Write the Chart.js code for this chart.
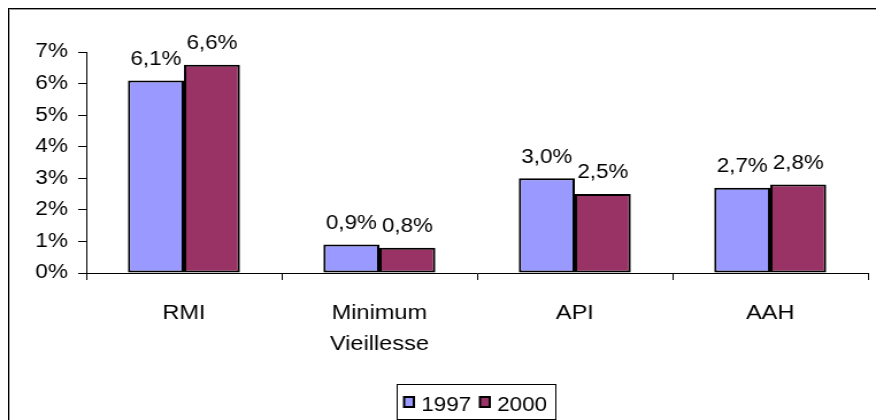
<!DOCTYPE html>
<html>
<head>
<meta charset="utf-8">
<script src="https://cdn.jsdelivr.net/npm/chart.js@4.4.1/dist/chart.umd.min.js"></script>
<style>
html,body{margin:0;padding:0;background:#fff;overflow:hidden;}
#wrap{width:876px;height:420px;position:relative;overflow:hidden;background:#fff;}
#c{position:absolute;left:0;top:0;transform-origin:0 0;transform:scaleX(1.1496);}
#f1{position:absolute;left:8px;top:8px;width:900px;height:450px;border-left:1px solid #000;border-top:1px solid #000;}
#f2{position:absolute;left:9px;top:9px;width:900px;height:450px;border-left:1px solid #9a9a9a;border-top:1px solid #9a9a9a;}
</style>
</head>
<body>
<div id="wrap">
<div id="f1"></div><div id="f2"></div>
<canvas id="c" width="762" height="420"></canvas>
</div>
<script>
const categories = [["RMI"], ["Minimum", "Vieillesse"], ["API"], ["AAH"]];
const seriesNames = ["1997", "2000"];
const values1997 = [6.1, 0.9, 3.0, 2.7];
const values2000 = [6.6, 0.8, 2.5, 2.8];
const yTicks = [0, 1, 2, 3, 4, 5, 6, 7];
const colors = ["#9999FF", "#993366"];

const FONT = "'Liberation Sans', Arial, sans-serif";

function fmt(v) { return v.toFixed(1).replace('.', ',') + '%'; }

const labelPlugin = {
  id: 'vlabels',
  afterDatasetsDraw(chart) {
    const ctx = chart.ctx;
    ctx.save();
    ctx.font = "19.5px " + FONT;
    ctx.fillStyle = '#000';
    ctx.textAlign = 'center';
    ctx.textBaseline = 'middle';
    chart.data.datasets.forEach((ds, di) => {
      const meta = chart.getDatasetMeta(di);
      meta.data.forEach((bar, i) => {
        ctx.fillText(fmt(ds.data[i]), bar.x, bar.y - 21);
      });
    });
    ctx.restore();
  }
};

const legendPlugin = {
  id: 'mylegend',
  afterDraw(chart) {
    const ctx = chart.ctx;
    ctx.save();
    ctx.lineWidth = 1;
    ctx.strokeStyle = '#000';
    ctx.strokeRect(345.5, 384.5, 138, 35);
    ctx.font = "19.5px " + FONT;
    ctx.textBaseline = 'middle';
    ctx.textAlign = 'left';
    const sx = [351.5, 417.5];
    chart.data.datasets.forEach((ds, di) => {
      const x = sx[di];
      ctx.fillStyle = ds.backgroundColor;
      ctx.fillRect(x, 397, 8.5, 10);
      ctx.lineWidth = 2;
      ctx.strokeStyle = '#000';
      ctx.strokeRect(x, 397, 8.5, 10);
      ctx.fillStyle = '#000';
      ctx.fillText(ds.label, x + 15, 406);
    });
    ctx.restore();
  }
};

new Chart(document.getElementById('c'), {
  type: 'bar',
  data: {
    labels: categories,
    datasets: [
      { label: seriesNames[0], data: values1997, backgroundColor: colors[0], borderColor: '#000', borderWidth: 2, borderSkipped: false },
      { label: seriesNames[1], data: values2000, backgroundColor: colors[1], borderColor: '#000', borderWidth: 2, borderSkipped: false }
    ]
  },
  options: {
    responsive: false,
    animation: false,
    devicePixelRatio: 1,
    layout: { padding: { left: 0, right: 7, top: 52, bottom: 0 } },
    datasets: { bar: { categoryPercentage: 0.573, barPercentage: 1.0 } },
    plugins: { legend: { display: false }, tooltip: { enabled: false } },
    scales: {
      x: {
        grid: { display: true, drawOnChartArea: false, drawTicks: true, tickLength: 7, color: '#000', offset: true },
        border: { display: true, color: '#000', width: 1 },
        ticks: { color: '#000', font: { family: FONT, size: 20.5, lineHeight: 1.51 }, padding: 18, maxRotation: 0, autoSkip: false },
        afterFit(scale) { scale.height = 147; }
      },
      y: {
        min: 0, max: 7,
        afterBuildTicks(scale) { scale.ticks = yTicks.map(v => ({ value: v })); },
        grid: { display: true, drawOnChartArea: false, drawTicks: true, tickLength: 7, color: '#000' },
        border: { display: true, color: '#000', width: 1 },
        ticks: { color: '#000', font: { family: FONT, size: 19.5 }, padding: 9, callback: v => v + '%' },
        afterFit(scale) { scale.width = 75; }
      }
    }
  },
  plugins: [labelPlugin, legendPlugin]
});
</script>
</body>
</html>
